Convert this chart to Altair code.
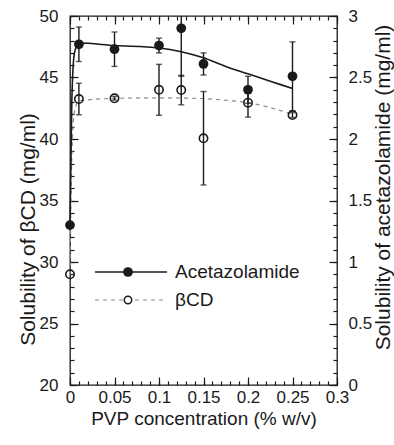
import altair as alt
import pandas as pd

# ---- data ----
conc = [0, 0.01, 0.05, 0.1, 0.125, 0.15, 0.2, 0.25]
acet = [1.30, 2.77, 2.73, 2.76, 2.90, 2.61, 2.40, 2.51]          # mg/ml (right axis)
acet_err = [0, 0.14, 0.14, 0.06, 0.39, 0.09, 0.11, 0.28]
bcd = [29.0, 43.25, 43.31, 44.0, 43.98, 40.06, 42.95, 41.95]     # mg/ml (left axis)
bcd_err = [0, 1.28, 0.15, 2.07, 1.2, 3.8, 1.17, 0.2]

fit_x = [0, 0.002, 0.005, 0.01, 0.05, 0.1, 0.125, 0.15, 0.175, 0.2, 0.225, 0.25]
acet_fit = [1.30, 2.30, 2.70, 2.78, 2.76, 2.74, 2.71, 2.66, 2.59, 2.53, 2.47, 2.41]
bcd_fit = [29.0, 38.5, 42.2, 43.1, 43.3, 43.35, 43.33, 43.28, 43.15, 42.95, 42.55, 42.0]

x_major = [0, 0.05, 0.1, 0.15, 0.2, 0.25, 0.3]
x_minor = [round(i * 0.01, 2) for i in range(31)]
left_major = [20, 25, 30, 35, 40, 45, 50]
left_minor = list(range(20, 51))
right_major = [0, 0.5, 1, 1.5, 2, 2.5, 3]
right_minor = [round(i * 0.1, 1) for i in range(31)]

legend_labels = ["Acetazolamide", "βCD"]
x_title = "PVP concentration (% w/v)"
left_title = "Solubility of βCD (mg/ml)"
right_title = "Solubility of acetazolamide (mg/ml)"

W, H = 267, 369
FONT = "Liberation Sans"
INK = "#1a1a1a"

pts = pd.DataFrame({"x": conc, "acet": acet, "acet_err": acet_err,
                    "bcd": bcd, "bcd_err": bcd_err})
pts["acet_lo"] = pts["acet"] - pts["acet_err"]
pts["acet_hi"] = pts["acet"] + pts["acet_err"]
pts["bcd_lo"] = pts["bcd"] - pts["bcd_err"]
pts["bcd_hi"] = pts["bcd"] + pts["bcd_err"]
err_pts = pts[pts["x"] > 0]
fit = pd.DataFrame({"x": fit_x, "acet": acet_fit, "bcd": bcd_fit})

xs = alt.Scale(domain=[0, 0.3], nice=False, zero=False)
yl = alt.Scale(domain=[20, 50], nice=False, zero=False)
yr = alt.Scale(domain=[0, 3], nice=False, zero=False)

TICK = dict(ticks=True, tickColor=INK, tickWidth=1.2, domain=False, grid=False)


def minor_axis(orient, vals, length):
    # inward ticks: the axis is moved into the plot by the tick length
    return alt.Axis(orient=orient, values=vals, labels=False, title=None,
                    tickSize=length, offset=-length, **TICK)


x_axis = alt.Axis(orient="bottom", values=x_major, format="~g", title=x_title,
                  tickSize=8, offset=-8, labelFontSize=17, labelPadding=4,
                  labelFlush=False, labelOverlap=False,
                  titleFontSize=19, titleFontWeight="normal", titleY=41,
                  titleBaseline="middle", **TICK)
left_axis = alt.Axis(orient="left", values=left_major, format="d", title=left_title,
                     tickSize=8, offset=-8, labelFontSize=17, labelPadding=12,
                     labelFlush=False, labelOverlap=False,
                     titleFontSize=21, titleFontWeight="normal",
                     titleAngle=270, titleX=-50, titleY=213, titleBaseline="middle",
                     titleAlign="center", **TICK)
right_axis = alt.Axis(orient="right", values=right_major, format="~g", title=right_title,
                      tickSize=8, offset=-8, labelFontSize=17, labelPadding=11,
                      labelFlush=False, labelOverlap=False,
                      titleFontSize=21, titleFontWeight="normal",
                      titleAngle=270, titleX=54, titleY=171, titleBaseline="middle",
                      titleAlign="center", **TICK)

one = pd.DataFrame({"d": [0]})

# ---------- left-scale layer (βCD) ----------
bcd_line = alt.Chart(fit).mark_line(color="#8a8a8a", strokeDash=[4, 4], strokeWidth=1.2,
                                    interpolate="monotone").encode(
    x=alt.X("x:Q", scale=xs, axis=x_axis),
    y=alt.Y("bcd:Q", scale=yl, axis=left_axis))
bcd_rule = alt.Chart(err_pts).mark_rule(color=INK, strokeWidth=1.4, clip=True).encode(
    x=alt.X("x:Q", scale=xs, axis=minor_axis("bottom", x_minor, 4)),
    y=alt.Y("bcd_lo:Q", scale=yl, axis=minor_axis("left", left_minor, 4)),
    y2="bcd_hi:Q")
bcd_cap_lo = alt.Chart(err_pts).mark_tick(color=INK, orient="horizontal", size=6,
                                          thickness=1.4, clip=True).encode(
    x=alt.X("x:Q", scale=xs, axis=minor_axis("top", x_major, 8)),
    y=alt.Y("bcd_lo:Q", scale=yl, axis=None))
bcd_cap_hi = alt.Chart(err_pts).mark_tick(color=INK, orient="horizontal", size=6,
                                          thickness=1.4, clip=True).encode(
    x=alt.X("x:Q", scale=xs, axis=minor_axis("top", x_minor, 4)),
    y=alt.Y("bcd_hi:Q", scale=yl, axis=None))
bcd_pts = alt.Chart(pts).mark_point(shape="circle", filled=False, stroke=INK,
                                    strokeWidth=1.6, size=70, opacity=1).encode(
    x=alt.X("x:Q", scale=xs, axis=None), y=alt.Y("bcd:Q", scale=yl, axis=None))

# legend
LY1, LY2 = 256, 284
leg_line1 = alt.Chart(one).mark_rule(color=INK, strokeWidth=1.6).encode(
    x=alt.value(25), x2=alt.value(97), y=alt.value(LY1))
leg_pt1 = alt.Chart(one).mark_circle(color=INK, size=95, opacity=1).encode(
    x=alt.value(58), y=alt.value(LY1))
leg_txt1 = alt.Chart(one).mark_text(align="left", baseline="middle", fontSize=19,
                                    font=FONT, color=INK).encode(
    x=alt.value(105), y=alt.value(LY1), text=alt.value(legend_labels[0]))
leg_line2 = alt.Chart(one).mark_rule(color="#8a8a8a", strokeWidth=1.2,
                                     strokeDash=[4, 4]).encode(
    x=alt.value(25), x2=alt.value(97), y=alt.value(LY2))
leg_pt2 = alt.Chart(one).mark_point(shape="circle", filled=True, fill="white", stroke=INK,
                                    strokeWidth=1.5, size=55, opacity=1).encode(
    x=alt.value(58), y=alt.value(LY2))
leg_txt2 = alt.Chart(one).mark_text(align="left", baseline="middle", fontSize=19,
                                    font=FONT, color=INK).encode(
    x=alt.value(105), y=alt.value(LY2), text=alt.value(legend_labels[1]))

left_layer = alt.layer(bcd_line, bcd_rule, bcd_cap_lo, bcd_cap_hi, bcd_pts,
                       leg_line1, leg_pt1, leg_txt1, leg_line2, leg_pt2, leg_txt2
                       ).resolve_axis(x="independent", y="independent")

# ---------- right-scale layer (acetazolamide) ----------
acet_line = alt.Chart(fit).mark_line(color=INK, strokeWidth=1.6,
                                     interpolate="monotone").encode(
    x=alt.X("x:Q", scale=xs, axis=None),
    y=alt.Y("acet:Q", scale=yr, axis=right_axis))
acet_rule = alt.Chart(err_pts).mark_rule(color=INK, strokeWidth=1.4, clip=True).encode(
    x=alt.X("x:Q", scale=xs, axis=None),
    y=alt.Y("acet_lo:Q", scale=yr, axis=minor_axis("right", right_minor, 4)),
    y2="acet_hi:Q")
acet_cap_lo = alt.Chart(err_pts).mark_tick(color=INK, orient="horizontal", size=6,
                                           thickness=1.4, clip=True).encode(
    x=alt.X("x:Q", scale=xs, axis=None), y=alt.Y("acet_lo:Q", scale=yr, axis=None))
acet_cap_hi = alt.Chart(err_pts).mark_tick(color=INK, orient="horizontal", size=6,
                                           thickness=1.4, clip=True).encode(
    x=alt.X("x:Q", scale=xs, axis=None), y=alt.Y("acet_hi:Q", scale=yr, axis=None))
acet_pts = alt.Chart(pts).mark_circle(color=INK, size=95, opacity=1).encode(
    x=alt.X("x:Q", scale=xs, axis=None), y=alt.Y("acet:Q", scale=yr, axis=None))

right_layer = alt.layer(acet_line, acet_rule, acet_cap_lo, acet_cap_hi, acet_pts
                        ).resolve_axis(y="independent")

chart = alt.layer(left_layer, right_layer).resolve_scale(y="independent").resolve_axis(
    x="independent", y="independent").properties(
    width=W, height=H,
    autosize=alt.AutoSizeParams(type="none"),
    padding={"left": 70, "top": 16, "right": 57, "bottom": 60},
).configure_view(stroke=INK, strokeWidth=1.3).configure_axis(
    labelFont=FONT, titleFont=FONT, labelColor=INK, titleColor=INK
)

chart.save("out.html", embed_options={"renderer": "svg", "actions": False})
